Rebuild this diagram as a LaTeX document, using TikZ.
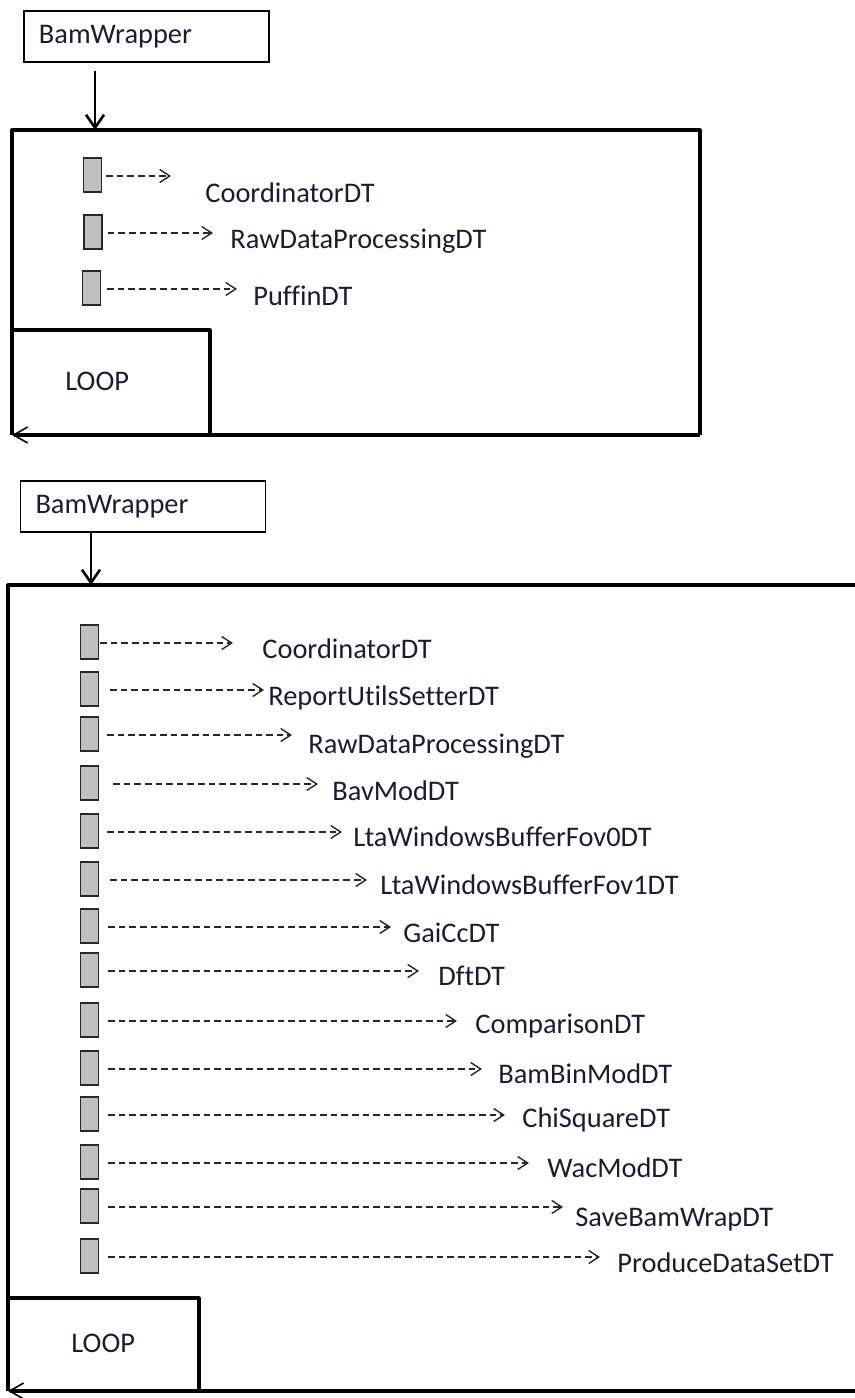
\documentclass[tikz,border=0pt]{standalone}
\usepackage{fontspec}
\setmainfont{Carlito}[Ligatures=NoCommon]
\usetikzlibrary{arrows.meta}

\definecolor{labelink}{RGB}{26,28,52}
\definecolor{actfill}{RGB}{192,192,192}
\definecolor{actedge}{RGB}{40,40,40}
\newcommand\lblfont{\fontsize{14.2}{17}\selectfont}

\begin{document}
\begin{tikzpicture}[x=0.5pt,y=-0.5pt,
    wrapbox/.style={draw, line width=0.75pt, minimum height=25.5pt,
      text width=107.5pt, inner xsep=7.5pt, inner ysep=0pt, align=left,
      font=\lblfont, text=labelink},
    frame/.style={line width=1.6pt, line join=round},
    loopback/.style={-{Straight Barb[length=7pt,width=8pt,line width=0.8pt]}},
    callarrow/.style={line width=1.3pt, -{Straight Barb[length=6.5pt,width=9pt]}},
    actbox/.style={draw=actedge, fill=actfill, line width=0.7pt,
      minimum width=9pt, minimum height=17pt, inner sep=0pt},
    callline/.style={line width=0.7pt, draw=black!85, dash pattern=on 3.3pt off 2pt,
      -{Straight Barb[length=5pt,width=6.5pt]}},
    lbl/.style={font=\lblfont, text=labelink, anchor=base west, inner sep=0pt}]
  \useasboundingbox (0,0) rectangle (855,1398);
  \clip (0,0) rectangle (855,1398);

  % first run: three objects in the loop
  \node[wrapbox] (wrap1) at (146.5,36.5) {BamWrapper};
  \coordinate (in1) at (95,130);
  \draw[callarrow, shorten <=4pt] (wrap1.south -| in1) -- (in1);
  \coordinate (f1nw) at (12,130);
  \coordinate (f1ne) at (700,130);
  \coordinate (f1se) at (700,435);
  \coordinate (f1sw) at (12,435);
  \draw[frame] (f1sw) -- (f1nw) -- (f1ne) -- (f1se);
  \draw[frame, loopback] (f1se) -- (f1sw);
  \draw[frame] (f1nw |- 0,330) -- (210,330) -- (210,435);
  \node[lbl] (loop1) at (65,390) {LOOP};
  \foreach \i/\ax/\ay/\gap/\tx/\lx/\ly/\name in {
      1/92.5/176/2/171/205/202/CoordinatorDT,
      2/93/233/2.5/213/230/248/RawDataProcessingDT,
      3/91.5/289/3/237/253/305/PuffinDT}
  {
    \node[actbox] (t\i) at (\ax,\ay-1) {};
    \coordinate (t\i e) at (\tx,\ay);
    \draw[callline, shorten <=\gap pt] (t\i.east |- t\i e) -- (t\i e);
    \node[lbl] (t\i l) at (\lx,\ly) {\name};
  }

  % second run: the full chain of objects
  \node[wrapbox] (wrap2) at (143,506.5) {BamWrapper};
  \coordinate (in2) at (91,585);
  \draw[callarrow] (wrap2.south -| in2) -- (in2);
  \coordinate (f2nw) at (8,585);
  \coordinate (f2ne) at (880,585);
  \coordinate (f2se) at (880,1391);
  \coordinate (f2sw) at (8,1391);
  \draw[frame] (f2sw) -- (f2nw) -- (f2ne);
  \draw[frame, loopback] (f2se) -- (f2sw);
  \draw[frame] (f2nw |- 0,1298) -- (199,1298) -- (199,1391);
  \node[lbl] (loop2) at (71,1352) {LOOP};
  \foreach \i/\ay/\gap/\tx/\lx/\ly/\name in {
      1/643/0.5/233/262/658/CoordinatorDT,
      2/690/5.5/264/268/705/ReportUtilsSetterDT,
      3/735/4/292/308/753/RawDataProcessingDT,
      4/784/7/318/332/800/BavModDT,
      5/832/4/342/353/846/LtaWindowsBufferFov0DT,
      6/880/5.5/367/380/894/LtaWindowsBufferFov1DT,
      7/927/4.5/391/403/942/GaiCcDT,
      8/971/4.5/419/438/985/DftDT,
      9/1021/4.5/457/475/1033/ComparisonDT,
      10/1069/4.5/482/498/1083/BamBinModDT,
      11/1115/4.5/505/522/1127/ChiSquareDT,
      12/1163/4.5/529/547/1177/WacModDT,
      13/1207/4.5/563/575/1226/SaveBamWrapDT,
      14/1257/4.5/600/617/1272/ProduceDataSetDT}
  {
    \node[actbox] (b\i) at (89.5,\ay-1) {};
    \coordinate (b\i e) at (\tx,\ay);
    \draw[callline, shorten <=\gap pt] (b\i.east |- b\i e) -- (b\i e);
    \node[lbl] (b\i l) at (\lx,\ly) {\name};
  }
\end{tikzpicture}
\end{document}
